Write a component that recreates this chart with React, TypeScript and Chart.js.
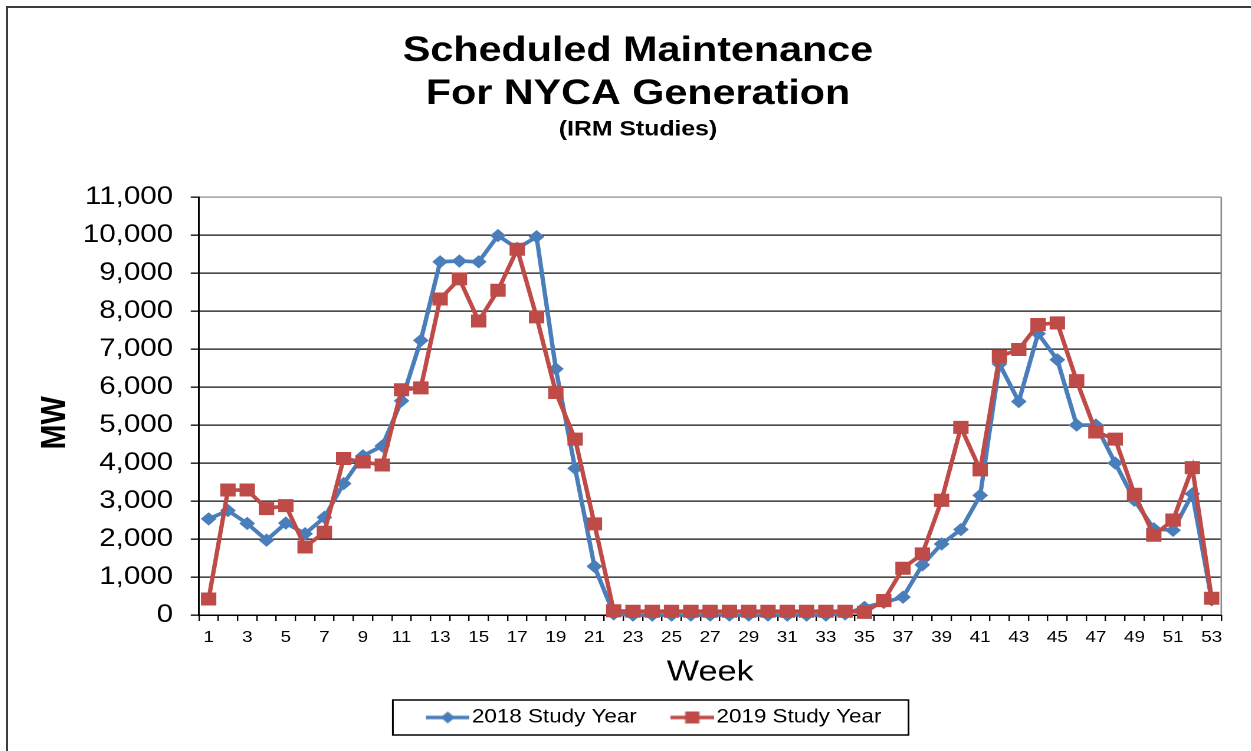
import React, { useEffect, useRef } from 'react';
import { Chart, registerables } from 'chart.js';

Chart.register(...registerables);

// ---------- data ----------
const weekLabels = [
  '1', '2', '3', '4', '5', '6', '7', '8', '9', '10',
  '11', '12', '13', '14', '15', '16', '17', '18', '19', '20',
  '21', '22', '23', '24', '25', '26', '27', '28', '29', '30',
  '31', '32', '33', '34', '35', '36', '37', '38', '39', '40',
  '41', '42', '43', '44', '45', '46', '47', '48', '49', '50',
  '51', '52', '53',
];

const study2018 = [
  2530, 2750, 2410, 1970, 2420, 2140, 2570, 3460, 4190, 4450,
  5640, 7230, 9300, 9320, 9300, 9990, 9650, 9960, 6480, 3860,
  1280, 30, 0, 0, 0, 0, 0, 0, 0, 0,
  0, 0, 0, 30, 200, 330, 470, 1320, 1870, 2250,
  3150, 6610, 5620, 7410, 6720, 5000, 5000, 4000, 3020, 2270,
  2230, 3190, 400,
];

const study2019 = [
  420, 3290, 3290, 2800, 2880, 1790, 2180, 4120, 4030, 3950,
  5930, 5980, 8320, 8850, 7740, 8550, 9630, 7850, 5860, 4630,
  2400, 110, 100, 100, 100, 100, 100, 100, 100, 100,
  100, 100, 100, 100, 70, 380, 1230, 1610, 3020, 4940,
  3820, 6810, 6990, 7650, 7690, 6170, 4820, 4630, 3180, 2100,
  2500, 3880, 440,
];

const seriesNames = ['2018 Study Year', '2019 Study Year'];
const seriesColors = ['#4A7EBB', '#BE4B48'];
const titleLines = ['Scheduled Maintenance', 'For NYCA Generation'];
const subtitleText = '(IRM Studies)';
const xAxisTitle = 'Week';
const yAxisTitle = 'MW';
const yMin = 0;
const yMax = 11000;
const yStep = 1000;

// ---------- layout constants ----------
const FONT = '"Liberation Sans", Arial, Helvetica, sans-serif';
const LOGICAL_W = 1068;
const LOGICAL_H = 729;
const CSS_W = 1260;
const LEGEND_DX = 8;
const LEGEND_BOX_W = 40;
const NBSP4 = '\u00A0\u00A0\u00A0\u00A0';

function makeLegendImage(color: string, kind: 'diamond' | 'square'): HTMLCanvasElement {
  const c = document.createElement('canvas');
  c.width = 55;
  c.height = 18;
  const g = c.getContext('2d')!;
  const y = 9;
  g.strokeStyle = color;
  g.lineWidth = 3.5;
  g.beginPath();
  g.moveTo(18, y);
  g.lineTo(55, y);
  g.stroke();
  const cx = 36.5;
  g.fillStyle = color;
  g.beginPath();
  if (kind === 'diamond') {
    g.moveTo(cx, y - 6);
    g.lineTo(cx + 6, y);
    g.lineTo(cx, y + 6);
    g.lineTo(cx - 6, y);
    g.closePath();
  } else {
    g.rect(cx - 6, y - 6, 12, 12);
  }
  g.fill();
  return c;
}

const decorPlugin = {
  id: 'decor',
  afterLayout(chart: any) {
    const lg = chart.legend;
    if (lg) {
      lg.left += LEGEND_DX;
      lg.right += LEGEND_DX;
    }
  },
  beforeDatasetsDraw(chart: any) {
    const { ctx, chartArea: a } = chart;
    ctx.save();
    ctx.strokeStyle = '#8c8c8c';
    ctx.lineWidth = 1.3;
    ctx.beginPath();
    ctx.moveTo(a.right, a.top);
    ctx.lineTo(a.right, a.bottom);
    ctx.stroke();
    ctx.restore();
  },
  afterDraw(chart: any) {
    const lg = chart.legend;
    const hb = lg && lg.legendHitBoxes;
    if (!hb || !hb.length) return;
    const first = hb[0];
    const last = hb[hb.length - 1];
    const left = first.left + 10.5 - 28;
    const right = last.left + last.width + 23;
    const cy = first.top + first.height / 2;
    const { ctx } = chart;
    ctx.save();
    ctx.strokeStyle = '#000';
    ctx.lineWidth = 1.5;
    ctx.strokeRect(left, cy - 17.5, right - left, 35);
    ctx.restore();
  },
};

export default function App() {
  const canvasRef = useRef<HTMLCanvasElement | null>(null);

  useEffect(() => {
    const canvas = canvasRef.current;
    if (!canvas) return;
    const images = [
      makeLegendImage(seriesColors[0], 'diamond'),
      makeLegendImage(seriesColors[1], 'square'),
    ];
    const chart = new Chart(canvas, {
      type: 'line',
      data: {
        labels: weekLabels,
        datasets: [
          {
            label: seriesNames[0],
            data: study2018,
            borderColor: seriesColors[0],
            backgroundColor: seriesColors[0],
            borderWidth: 3.7,
            pointStyle: 'rectRot',
            pointRadius: 6,
            pointBorderWidth: 1,
            pointBackgroundColor: seriesColors[0],
            pointBorderColor: seriesColors[0],
            tension: 0,
            clip: false,
            order: 1,
          },
          {
            label: seriesNames[1],
            data: study2019,
            borderColor: seriesColors[1],
            backgroundColor: seriesColors[1],
            borderWidth: 3.7,
            pointStyle: 'rect',
            pointRadius: 8.5,
            pointBorderWidth: 1,
            pointBackgroundColor: seriesColors[1],
            pointBorderColor: seriesColors[1],
            tension: 0,
            clip: false,
            order: 0,
          },
        ],
      },
      options: {
        animation: false,
        responsive: false,
        devicePixelRatio: 2,
        events: [],
        layout: { padding: 0 },
        plugins: {
          title: {
            display: true,
            text: titleLines,
            color: '#000',
            font: { family: FONT, size: 35, weight: 'bold', lineHeight: 1.229 },
            padding: { top: 22, bottom: 1 },
          },
          subtitle: {
            display: true,
            text: subtitleText,
            color: '#000',
            font: { family: FONT, size: 21, weight: 'bold', lineHeight: 1.2 },
            padding: { top: 0, bottom: 55 },
          },
          legend: {
            display: true,
            position: 'bottom',
            labels: {
              usePointStyle: true,
              pointStyleWidth: LEGEND_BOX_W,
              boxHeight: 19,
              padding: 18,
              color: '#000',
              font: { family: FONT, size: 19 },
              generateLabels: () =>
                seriesNames.map((name, i) => ({
                  text: name,
                  datasetIndex: i,
                  pointStyle: images[i] as any,
                  fillStyle: 'rgba(0,0,0,0)',
                  strokeStyle: 'rgba(0,0,0,0)',
                  lineWidth: 0,
                  hidden: false,
                  fontColor: '#000',
                })),
            },
          },
          tooltip: { enabled: false },
        },
        scales: {
          x: {
            type: 'category',
            offset: true,
            grid: {
              display: true,
              offset: true,
              drawOnChartArea: false,
              drawTicks: true,
              tickLength: 6,
              color: '#000',
              lineWidth: 1.2,
            },
            border: { display: true, color: '#000', width: 1.5 },
            ticks: {
              autoSkip: false,
              maxRotation: 0,
              minRotation: 0,
              padding: 7,
              color: '#000',
              font: { family: FONT, size: 16 },
              callback: (_v: any, index: number) => (index % 2 === 0 ? weekLabels[index] : ''),
            },
            title: {
              display: true,
              text: xAxisTitle,
              color: '#000',
              font: { family: FONT, size: 29, lineHeight: 1.2 },
              padding: { top: 1, bottom: 0 },
            },
          },
          y: {
            type: 'linear',
            position: 'left',
            min: yMin,
            max: yMax,
            afterFit: (s: any) => {
              s.width = 161.9;
            },
            grid: {
              display: true,
              drawTicks: true,
              tickLength: 7,
              lineWidth: 1.3,
              color: (ctx: any) => (ctx.tick && ctx.tick.value === yMax ? '#8c8c8c' : '#111'),
              tickColor: '#000',
            },
            border: { display: true, color: '#000', width: 1.5 },
            ticks: {
              stepSize: yStep,
              padding: 15,
              color: '#000',
              font: { family: FONT, size: 25 },
              callback: (v: any) => Number(v).toLocaleString('en-US'),
            },
            title: {
              display: true,
              text: yAxisTitle + NBSP4,
              color: '#000',
              font: { family: FONT, size: 30, weight: 'bold', lineHeight: 1.2 },
              padding: { top: 22, bottom: 0 },
            },
          },
          yRight: {
            type: 'linear',
            position: 'right',
            display: true,
            afterFit: (s: any) => {
              s.width = 39.6;
            },
            grid: { display: false, drawTicks: false },
            border: { display: false },
            ticks: { display: false },
          },
        },
      } as any,
      plugins: [decorPlugin],
    });
    return () => chart.destroy();
  }, []);

  return (
    <div
      style={{
        position: 'absolute',
        left: 0,
        top: 0,
        width: 1251,
        height: 751,
        overflow: 'hidden',
        background: '#fff',
      }}
    >
      <div
        style={{
          position: 'absolute',
          left: 6,
          top: 6,
          width: 1264,
          height: 790,
          border: '2px solid #3c3c3c',
          boxSizing: 'border-box',
          background: '#fff',
        }}
      >
        <canvas
          ref={canvasRef}
          width={LOGICAL_W}
          height={LOGICAL_H}
          style={{ width: `${CSS_W}px`, height: `${LOGICAL_H}px`, display: 'block' }}
        />
      </div>
    </div>
  );
}
